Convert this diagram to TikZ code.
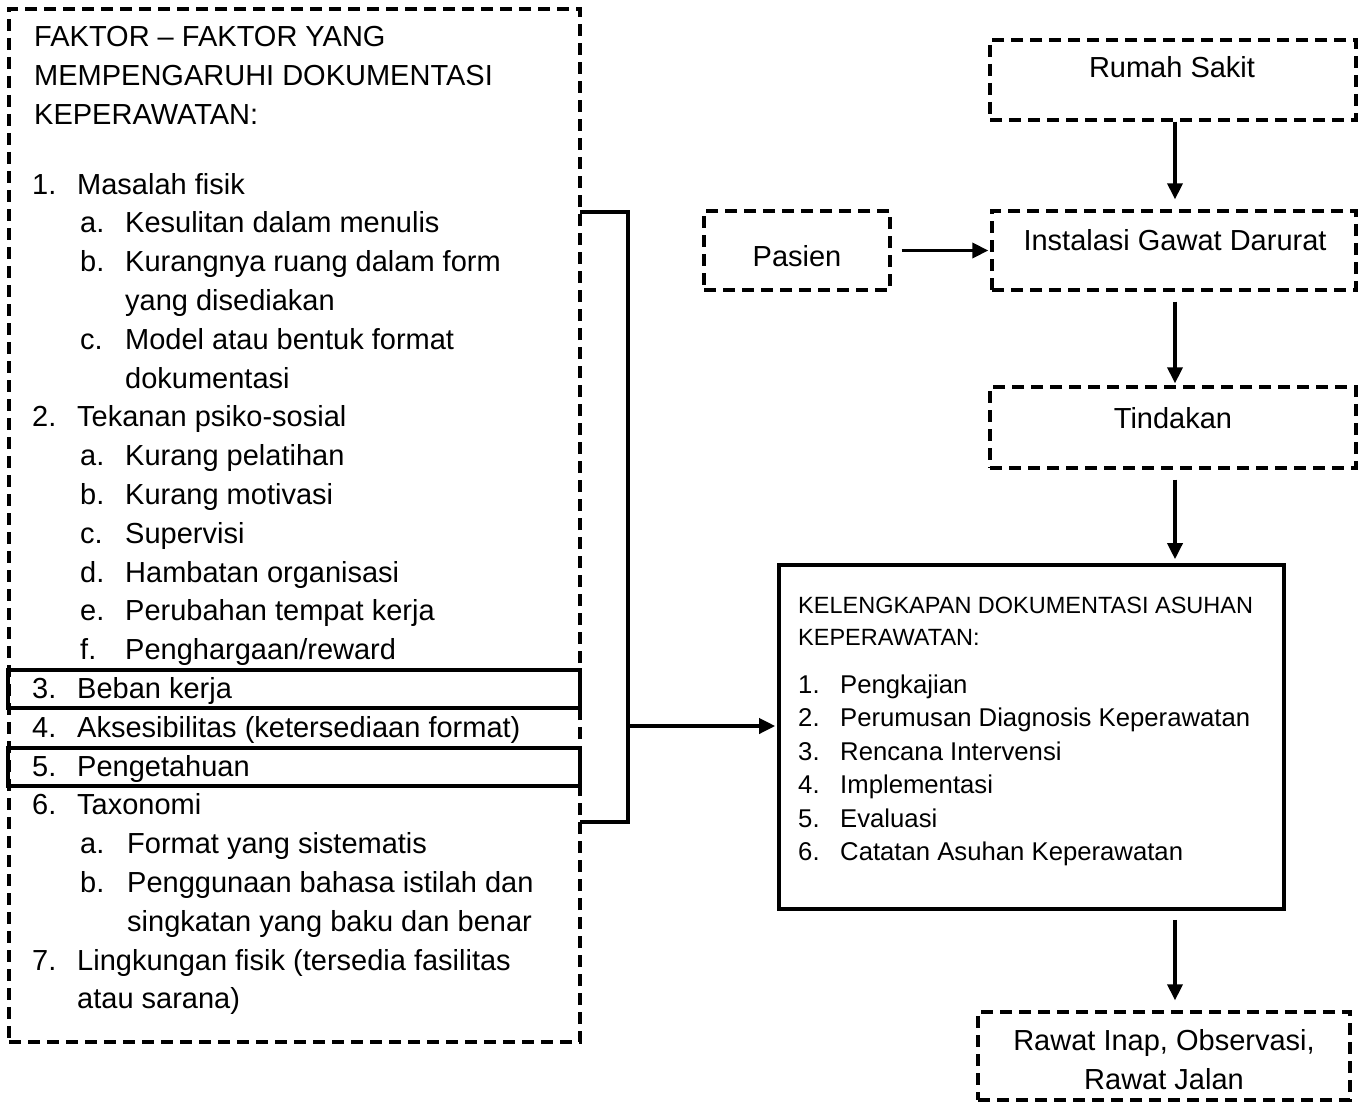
\documentclass[tikz,border=0pt]{standalone}
\usepackage{fontspec}
\setmainfont{Liberation Sans}
\usetikzlibrary{arrows.meta}
\newcommand{\Litem}[6]{\node[txt] (#1n) at (#3,#2) {#4}; \node[txt] (#1t) at (#5,#2) {#6};}
\begin{document}
\begin{tikzpicture}[x=1pt,y=-1pt,
 dbox/.style={draw,line width=3.3pt,dash pattern=on 12pt off 7pt,inner sep=0,rectangle},
 sbox/.style={draw,line width=3.6pt,inner sep=0,rectangle},
 txt/.style={anchor=base west,inner sep=0,font=\fontsize{29}{35}\selectfont},
 ctxt/.style={anchor=base,inner sep=0,font=\fontsize{29}{35}\selectfont},
 rtxt/.style={anchor=base west,inner sep=0,font=\fontsize{25.7}{30}\selectfont},
 htxt/.style={anchor=base west,inner sep=0,font=\fontsize{23.5}{28}\selectfont},
 arr/.style={line width=3.5pt,-{Triangle[length=16pt,width=15pt]}},
 conn/.style={line width=3.6pt}]
\useasboundingbox (0,0) rectangle (1364,1102);
% left box
\node[dbox,minimum width=571pt,minimum height=1033pt] (left) at (294.5,525.5) {};
\node[sbox,minimum width=572pt,minimum height=38pt] (beban) at (294,689) {};
\node[sbox,minimum width=572pt,minimum height=38pt] (penget) at (294,767) {};
\node[txt] (h1) at (34,47) {FAKTOR – FAKTOR YANG};
\node[txt] (h2) at (34,86) {MEMPENGARUHI DOKUMENTASI};
\node[txt] (h3) at (34,125) {KEPERAWATAN:};
\Litem{i0}{194}{32}{1.}{77}{Masalah fisik}
\Litem{i1}{232.8}{80}{a.}{125}{Kesulitan dalam menulis}
\Litem{i2}{271.6}{80}{b.}{125}{Kurangnya ruang dalam form}
\node[txt] (i3t) at (125,310.4) {yang disediakan};
\Litem{i4}{349.2}{80}{c.}{125}{Model atau bentuk format}
\node[txt] (i5t) at (125,388) {dokumentasi};
\Litem{i6}{426.8}{32}{2.}{77}{Tekanan psiko-sosial}
\Litem{i7}{465.6}{80}{a.}{125}{Kurang pelatihan}
\Litem{i8}{504.4}{80}{b.}{125}{Kurang motivasi}
\Litem{i9}{543.2}{80}{c.}{125}{Supervisi}
\Litem{i10}{582}{80}{d.}{125}{Hambatan organisasi}
\Litem{i11}{620.8}{80}{e.}{125}{Perubahan tempat kerja}
\Litem{i12}{659.6}{80}{f.}{125}{Penghargaan/reward}
\Litem{i13}{698.4}{32}{3.}{77}{Beban kerja}
\Litem{i14}{737.2}{32}{4.}{77}{Aksesibilitas (ketersediaan format)}
\Litem{i15}{776}{32}{5.}{77}{Pengetahuan}
\Litem{i16}{814.8}{32}{6.}{77}{Taxonomi}
\Litem{i17}{853.6}{80}{a.}{127}{Format yang sistematis}
\Litem{i18}{892.4}{80}{b.}{127}{Penggunaan bahasa istilah dan}
\node[txt] (i19t) at (127,931.2) {singkatan yang baku dan benar};
\Litem{i20}{970}{32}{7.}{77}{Lingkungan fisik (tersedia fasilitas}
\node[txt] (i21t) at (77,1008.8) {atau sarana)};
% right boxes
\node[dbox,minimum width=366pt,minimum height=80pt] (rs) at (1173,80) {};
\node[ctxt] (rst) at (1172,78) {Rumah Sakit};
\node[dbox,minimum width=186pt,minimum height=79pt] (pas) at (797,250.5) {};
\node[ctxt] (past) at (797,266) {Pasien};
\node[dbox,minimum width=364pt,minimum height=79pt] (igd) at (1174,250.5) {};
\node[ctxt] (igdt) at (1175,250) {Instalasi Gawat Darurat};
\node[dbox,minimum width=366pt,minimum height=81pt] (tind) at (1173,427.5) {};
\node[ctxt] (tindt) at (1173,428) {Tindakan};
\node[sbox,minimum width=505pt,minimum height=344pt] (kel) at (1031.5,737) {};
\node[htxt] (k1) at (798,613) {KELENGKAPAN DOKUMENTASI ASUHAN};
\node[htxt] (k2) at (798,645) {KEPERAWATAN:};
\node[rtxt] (kn1) at (798,693) {1.}; \node[rtxt] (kt1) at (840,693) {Pengkajian};
\node[rtxt] (kn2) at (798,726.5) {2.}; \node[rtxt] (kt2) at (840,726.5) {Perumusan Diagnosis Keperawatan};
\node[rtxt] (kn3) at (798,760) {3.}; \node[rtxt] (kt3) at (840,760) {Rencana Intervensi};
\node[rtxt] (kn4) at (798,793.5) {4.}; \node[rtxt] (kt4) at (840,793.5) {Implementasi};
\node[rtxt] (kn5) at (798,827) {5.}; \node[rtxt] (kt5) at (840,827) {Evaluasi};
\node[rtxt] (kn6) at (798,860.5) {6.}; \node[rtxt] (kt6) at (840,860.5) {Catatan Asuhan Keperawatan};
\node[dbox,minimum width=372pt,minimum height=88pt] (rj) at (1164,1056) {};
\node[ctxt] (rjt1) at (1164,1050) {Rawat Inap, Observasi,};
\node[ctxt] (rjt2) at (1164,1089) {Rawat Jalan};
% connectors
\coordinate (bt) at (580,212);
\coordinate (bb) at (580,822);
\coordinate (bj) at (628,726);
\coordinate (ax) at (1175,0);
\draw[conn] (bt) -| (bj) |- (bb);
\draw[arr,shorten >=2pt] (bj) -- (bj -| kel.west);
\draw[arr,shorten <=10pt,shorten >=2pt] (pas.east) -- (pas.east -| igd.west);
\draw[arr,shorten >=10pt] (rs.south -| ax) -- (igd.north -| ax);
\draw[arr,shorten <=10pt,shorten >=2pt] (igd.south -| ax) -- (tind.north -| ax);
\draw[arr,shorten <=10pt,shorten >=4pt] (tind.south -| ax) -- (kel.north -| ax);
\draw[arr,shorten <=9pt,shorten >=10pt] (kel.south -| ax) -- (rj.north -| ax);
\end{tikzpicture}
\end{document}
